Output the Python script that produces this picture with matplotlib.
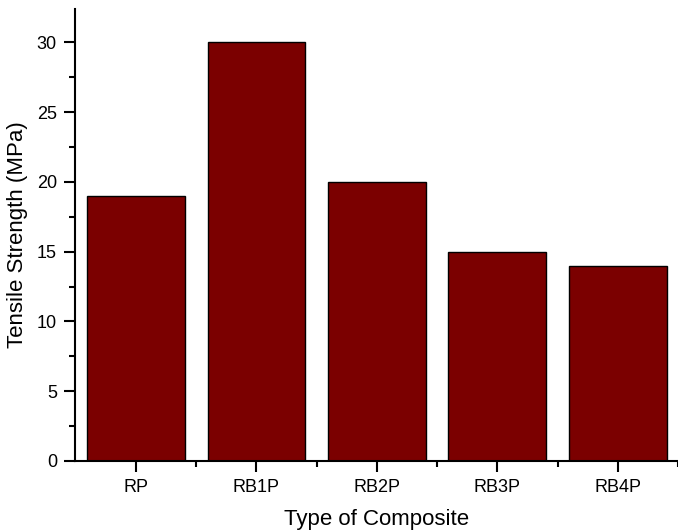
import matplotlib
matplotlib.use("Agg")
import matplotlib.pyplot as plt
from matplotlib.ticker import MultipleLocator

# data
composites = ["RP", "RB1P", "RB2P", "RB3P", "RB4P"]
tensile_strength = [19, 30, 20, 15, 14]

plt.rcParams["font.family"] = ["Liberation Sans", "DejaVu Sans"]

fig = plt.figure(figsize=(6.78, 5.32), dpi=100)
ax = fig.add_axes([0.1106, 0.1335, 0.8894, 0.8496])

x = range(len(composites))
ax.bar(x, tensile_strength, width=0.81, color="#7b0000",
       edgecolor="black", linewidth=1.0, zorder=2)

ax.set_xlim(-0.505, 4.44)
ax.set_ylim(0, 32.4)
ax.set_xticks(list(x))
ax.set_xticklabels(composites)
ax.set_xticks([i + 0.5 for i in x], minor=True)
ax.yaxis.set_major_locator(MultipleLocator(5))
ax.yaxis.set_minor_locator(MultipleLocator(2.5))

for side in ("top", "right"):
    ax.spines[side].set_visible(False)
for side in ("left", "bottom"):
    ax.spines[side].set_linewidth(1.5)

ax.tick_params(which="major", direction="out", length=8, width=1.5,
               labelsize=13, pad=5)
ax.tick_params(which="minor", direction="out", length=4.5, width=1.5)

ax.set_xlabel("Type of Composite", fontsize=16, labelpad=9)
ax.set_ylabel("Tensile Strength (MPa)", fontsize=16, labelpad=6)

fig.savefig("out.png", dpi=100)
